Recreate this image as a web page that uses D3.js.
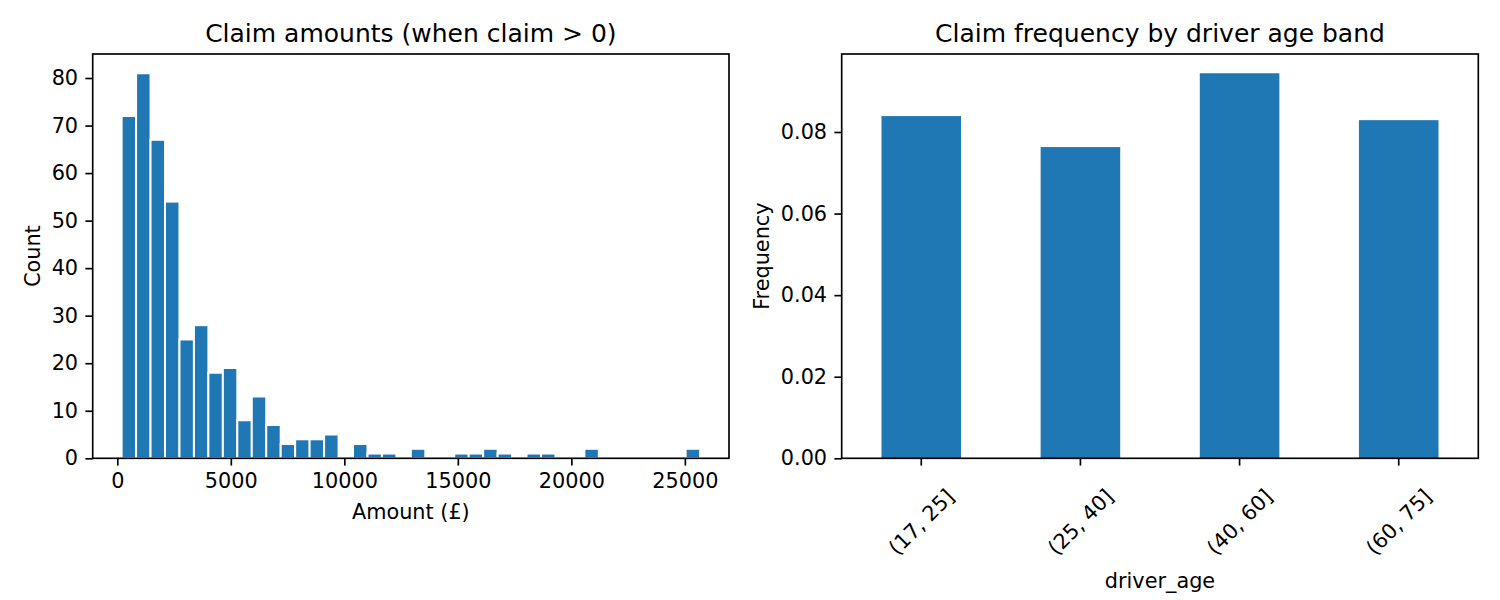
<!DOCTYPE html>
<html>
<head>
<meta charset="utf-8">
<script src="https://cdn.jsdelivr.net/npm/d3@7"></script>
<style>
  body { margin: 0; background: #fff; }
  text { font-family: "DejaVu Sans", sans-serif; fill: #000; }
</style>
</head>
<body>
<div id="viewer" style="width:1500px;height:600px;"></div>
<script>
// Histogram of claim amounts: 40 equal bins between min and max claim
const minAmount = 190;
const maxAmount = 25670;
const claimCounts = [
    72, 81, 67, 54, 25, 28, 18, 19, 8, 13,
    7, 3, 4, 4, 5, 0, 3, 1, 1, 0,
    2, 0, 0, 1, 1, 2, 1, 0, 1, 1,
    0, 0, 2, 0, 0, 0, 0, 0, 0, 2
];
const amountTicks = [0, 5000, 10000, 15000, 20000, 25000];
const countTicks = [0, 10, 20, 30, 40, 50, 60, 70, 80];

// Claim frequency per driver age band
const ageBands = ["(17, 25]", "(25, 40]", "(40, 60]", "(60, 75]"];
const ageFrequency = [0.0839, 0.0763, 0.0944, 0.0829];
const freqTicks = [0, 0.02, 0.04, 0.06, 0.08];

const width = 1500;
const height = 600;
const blue = "#1f77b4";
const tickFont = "20.8px";
const tickLen = 7.3;

const svg = d3.select("#viewer")
    .append("svg")
    .attr("width", width)
    .attr("height", height);

// ---------- left panel: histogram ----------
const left = { x0: 92.7, x1: 729, y0: 54, y1: 458.3 };

const nBins = claimCounts.length;
const binWidth = (maxAmount - minAmount) / nBins;
const bins = claimCounts.map((c, i) => ({
    x0: minAmount + i * binWidth,
    x1: minAmount + (i + 1) * binWidth,
    count: c
}));

const span = maxAmount - minAmount;
const xAmount = d3.scaleLinear()
    .domain([minAmount - span * 0.05, maxAmount + span * 0.05])
    .range([left.x0, left.x1]);

const yCount = d3.scaleLinear()
    .domain([0, d3.max(claimCounts) * 1.05])
    .range([left.y1, left.y0]);

const g1 = svg.append("g");

g1.selectAll("rect.bin")
    .data(bins.filter(d => d.count > 0))
    .enter()
    .append("rect")
    .attr("class", "bin")
    .attr("x", d => xAmount(d.x0))
    .attr("width", d => xAmount(d.x1) - xAmount(d.x0))
    .attr("y", d => yCount(d.count))
    .attr("height", d => yCount(0) - yCount(d.count))
    .style("fill", blue)
    .style("stroke", "#fff")
    .style("stroke-width", 2);

// axes
const xAxis1 = d3.axisBottom(xAmount)
    .tickValues(amountTicks)
    .tickFormat(d3.format("d"))
    .tickSize(tickLen)
    .tickPadding(7.3);

const yAxis1 = d3.axisLeft(yCount)
    .tickValues(countTicks)
    .tickFormat(d3.format("d"))
    .tickSize(tickLen)
    .tickPadding(7.3);

g1.append("g")
    .attr("transform", `translate(0,${left.y1})`)
    .call(xAxis1);

g1.append("g")
    .attr("transform", `translate(${left.x0},0)`)
    .call(yAxis1);

// frame
g1.append("rect")
    .attr("x", left.x0)
    .attr("y", left.y0)
    .attr("width", left.x1 - left.x0)
    .attr("height", left.y1 - left.y0)
    .style("fill", "none")
    .style("stroke", "#000")
    .style("stroke-width", 1.67);

g1.append("text")
    .attr("x", (left.x0 + left.x1) / 2)
    .attr("y", 41.5)
    .attr("text-anchor", "middle")
    .style("font-size", "25px")
    .text("Claim amounts (when claim > 0)");

g1.append("text")
    .attr("x", (left.x0 + left.x1) / 2)
    .attr("y", 519)
    .attr("text-anchor", "middle")
    .style("font-size", tickFont)
    .text("Amount (£)");

g1.append("text")
    .attr("transform", `translate(33,${(left.y0 + left.y1) / 2}) rotate(-90)`)
    .attr("dy", "0.35em")
    .attr("text-anchor", "middle")
    .style("font-size", tickFont)
    .text("Count");

// ---------- right panel: frequency by age band ----------
const right = { x0: 841.7, x1: 1478.3, y0: 54, y1: 458.3 };

const xBand = d3.scaleBand()
    .domain(ageBands)
    .range([right.x0, right.x1])
    .paddingInner(0.5)
    .paddingOuter(0.25);

const yFreq = d3.scaleLinear()
    .domain([0, d3.max(ageFrequency) * 1.05])
    .range([right.y1, right.y0]);

const g2 = svg.append("g");

g2.selectAll("rect.band")
    .data(ageBands)
    .enter()
    .append("rect")
    .attr("class", "band")
    .attr("x", d => xBand(d))
    .attr("width", xBand.bandwidth())
    .attr("y", (d, i) => yFreq(ageFrequency[i]))
    .attr("height", (d, i) => yFreq(0) - yFreq(ageFrequency[i]))
    .style("fill", blue);

const xAxis2 = d3.axisBottom(xBand)
    .tickSize(tickLen)
    .tickFormat("");

const yAxis2 = d3.axisLeft(yFreq)
    .tickValues(freqTicks)
    .tickFormat(d3.format(".2f"))
    .tickSize(tickLen)
    .tickPadding(7.3);

g2.append("g")
    .attr("transform", `translate(0,${right.y1})`)
    .call(xAxis2);

g2.append("g")
    .attr("transform", `translate(${right.x0},0)`)
    .call(yAxis2);

// rotated band labels
g2.selectAll("text.bandlabel")
    .data(ageBands)
    .enter()
    .append("text")
    .attr("class", "bandlabel")
    .attr("transform", d => `translate(${xBand(d) + xBand.bandwidth() / 2},522) rotate(-45)`)
    .attr("dy", "0.35em")
    .attr("text-anchor", "middle")
    .style("font-size", tickFont)
    .text(d => d);

g2.append("rect")
    .attr("x", right.x0)
    .attr("y", right.y0)
    .attr("width", right.x1 - right.x0)
    .attr("height", right.y1 - right.y0)
    .style("fill", "none")
    .style("stroke", "#000")
    .style("stroke-width", 1.67);

g2.append("text")
    .attr("x", (right.x0 + right.x1) / 2)
    .attr("y", 41.5)
    .attr("text-anchor", "middle")
    .style("font-size", "25px")
    .text("Claim frequency by driver age band");

g2.append("text")
    .attr("x", (right.x0 + right.x1) / 2)
    .attr("y", 588)
    .attr("text-anchor", "middle")
    .style("font-size", tickFont)
    .text("driver_age");

g2.append("text")
    .attr("transform", `translate(762,${(right.y0 + right.y1) / 2}) rotate(-90)`)
    .attr("dy", "0.35em")
    .attr("text-anchor", "middle")
    .style("font-size", tickFont)
    .text("Frequency");

// axis styling to match the reference
svg.selectAll(".domain").remove();
svg.selectAll(".tick line")
    .style("stroke", "#000")
    .style("stroke-width", 1.67);
svg.selectAll(".tick text")
    .style("font-size", tickFont)
    .style("font-family", "DejaVu Sans, sans-serif")
    .style("fill", "#000");
</script>
</body>
</html>
